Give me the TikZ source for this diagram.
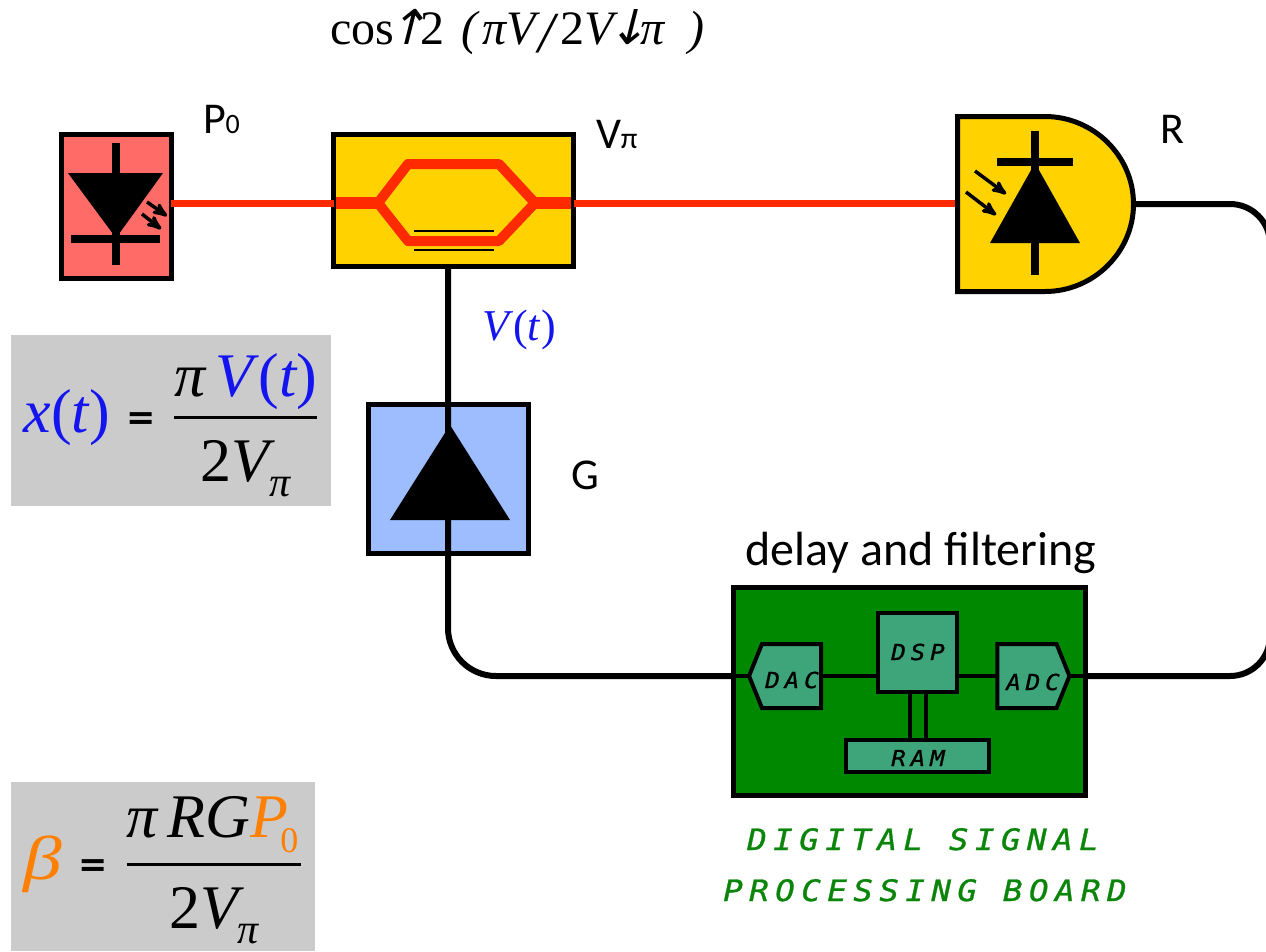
\documentclass[tikz,border=0pt]{standalone}
\usepackage{fix-cm}
\usepackage{amsmath}
\usepackage{fontspec}
\setmainfont{Carlito}
\newfontfamily\eqfont{Liberation Serif}
\newfontfamily\signfont{DejaVu Sans}
\newfontfamily\slantfont[FakeSlant=0.25]{DejaVu Sans}
\newfontfamily\boardfont[LetterSpace=22,FakeStretch=1.1,FakeBold=1]{DejaVu Sans Mono}
\usetikzlibrary{shapes,arrows}
\usetikzlibrary{positioning}
\usepackage{xcolor}

\definecolor{laserred}{HTML}{FF6B66}
\definecolor{fibrered}{HTML}{FF2A00}
\definecolor{mzmyellow}{HTML}{FFD200}
\definecolor{ampblue}{HTML}{9DBDFF}
\definecolor{boardgreen}{HTML}{008800}
\definecolor{chipgreen}{HTML}{3DA579}
\definecolor{textgreen}{HTML}{0A850A}
\definecolor{eqgrey}{HTML}{CBCBCB}
\definecolor{eqblue}{HTML}{1414F0}
\definecolor{eqorange}{HTML}{FF8000}

\newcommand{\ital}[1]{\text{\eqfont\itshape #1}}
\newcommand{\rom}[1]{\text{\eqfont #1}}
\newcommand{\tallarrow}[1]{{\slantfont\fontsize{48}{48}\selectfont #1}}
\newcommand{\eqsign}{\hspace{17pt}\raisebox{3pt}{\signfont\bfseries\fontsize{35}{35}\selectfont =}\hspace{17pt}}
\newcommand{\eqdenom}{\raisebox{-6pt}{\eqfont 2\itshape V\raisebox{-15pt}{\fontsize{42}{42}\selectfont π}}}

\tikzset{
  device/.style={draw=black, line width=5pt, inner sep=0pt, outer sep=0pt},
  chip/.style={draw=black, line width=4pt, fill=chipgreen, inner sep=0pt, outer sep=0pt},
  tag/.style={inner sep=0pt, outer sep=0pt, font=\fontsize{44}{52}\selectfont},
  chiptext/.style={inner sep=0pt, font=\boardfont\itshape\fontsize{22}{28}\selectfont},
  captext/.style={inner sep=0pt, text=textgreen, anchor=base, font=\boardfont\itshape\fontsize{29.5}{35}\selectfont},
  eqbox/.style={fill=eqgrey, inner sep=0pt, outer sep=0pt},
  eqtext/.style={inner sep=0pt, outer sep=0pt, anchor=base, font=\eqfont\fontsize{62}{74}\selectfont},
  fibre/.style={draw=fibrered, line width=7pt},
  guide/.style={draw=fibrered, line width=10pt, line join=round},
  wire/.style={draw=black, line width=6pt},
  thinwire/.style={draw=black, line width=4pt},
  bar/.style={draw=black, line width=8pt},
  photon/.style={draw=black, line width=3.5pt, ->, >=stealth'}
}

\begin{document}
\begin{tikzpicture}[x=1pt, y=-1pt]
  \useasboundingbox (0,0) rectangle (1266,951);

  % Top: transfer function
  \node[inner sep=0pt, anchor=base west, font=\eqfont\fontsize{48}{56}\selectfont] (transfer) at (330,44)
    {cos\hspace{-8pt}\tallarrow{↑}\hspace{-6pt}2\hspace{17pt}\textit{(}\hspace{3pt}\textit{πV}\hspace{-2pt}\raisebox{-8pt}{\fontsize{58}{58}\selectfont\textit{/}}\hspace{1pt}2\textit{V}\hspace{-11pt}\tallarrow{↓}\hspace{-7pt}\textit{π\ \ )}};

  % Optical path
  \node[device, fill=mzmyellow, minimum width=240pt, minimum height=132pt] (mzm) at (453.5,200.5) {};
  \node[device, fill=laserred, minimum width=110pt, minimum height=144pt] (laser) at (116.25,206.5) {};
  \node[inner sep=0pt, outer sep=0pt, minimum width=181pt, minimum height=180pt] (det) at (1045.5,204) {};
  \coordinate (split) at (378,203);
  \coordinate (combine) at (535,203);
  \draw[fibre] (laser.east |- split) -- (mzm.west |- split);
  \draw[fibre] (mzm.east |- combine) -- (det.west |- combine);

  % Laser diode
  \fill (68,173) -- (163,173) -- (116,238) -- cycle;
  \draw[bar] (115.5,143) -- (115.5,265);
  \draw[bar] (71,239) -- (160,239);
  \draw[photon] (147,202) -- (167,216);
  \draw[photon] (142,214) -- (161,229);

  % Modulator arms
  \draw[guide] (split) -- (408,164) -- (499,164) -- (combine);
  \draw[guide] (split) -- (408,241) -- (499,241) -- (combine);
  \draw[guide, line width=12pt] (336,203) -- (split);
  \draw[guide, line width=12pt] (combine) -- (571,203);
  \draw[black, line width=2pt] (414,231) -- (494,231);
  \draw[black, line width=2pt] (414,250) -- (494,250);

  % Photodetector
  \draw[device, fill=mzmyellow] (957.5,116.5) -- (1045,116.5) .. controls (1093.3,116.5) and (1133.5,155.7) .. (1133.5,204) .. controls (1133.5,252.3) and (1093.3,291.5) .. (1045,291.5) -- (957.5,291.5) -- cycle;
  \fill (1035,163) -- (990,243) -- (1080,243) -- cycle;
  \draw[bar] (1035,131) -- (1035,275);
  \draw[bar] (997,162) -- (1073,162);
  \draw[photon] (975,171) -- (1006,194);
  \draw[photon] (966,192) -- (996,215);

  % Amplifier
  \node[device, fill=ampblue, minimum width=160pt, minimum height=149pt] (amp) at (448,479) {};

  % Board
  \node[device, fill=boardgreen, minimum width=352pt, minimum height=208pt] (board) at (909.5,691.5) {};
  \node[chip, minimum width=79pt, minimum height=79pt] (dsp) at (917.5,652.5) {};
  \node[chip, minimum width=143pt, minimum height=32pt] (ram) at (917.5,756) {};
  \node[chip, signal, signal to=west, signal pointer angle=136, minimum width=72pt, minimum height=64pt] (dac) at (791.5,676) {};
  \node[chip, signal, signal to=east, signal pointer angle=136, minimum width=72pt, minimum height=64pt] (adc) at (1027,676) {};

  \draw[thinwire] (dac.east) -- (dac.east -| dsp.west);
  \draw[thinwire] (dac.east -| dsp.east) -- (adc.west);
  \draw[thinwire] (board.west |- dac) -- (dac.west);
  \draw[thinwire] (adc.east) -- (board.east |- adc);
  \draw[thinwire] ([xshift=-8pt]dsp.south) -- ([xshift=-8pt]dsp.south |- ram.north);
  \draw[thinwire] ([xshift=8pt]dsp.south) -- ([xshift=8pt]dsp.south |- ram.north);

  \node[chiptext] (dactext) at (792,680) {DAC};
  \node[chiptext] (dsptext) at (918,652) {DSP};
  \node[chiptext] (adctext) at (1033,682) {ADC};
  \node[chiptext] (ramtext) at (918,758) {RAM};

  % Feedback loop
  \coordinate (turn) at (1270,440);
  \draw[wire, rounded corners=40pt] (det.east) -- (turn |- det) -- (turn |- adc) -- (board.east |- adc);
  \draw[wire, rounded corners=48pt] (amp |- mzm.south) -- (amp |- dac) -- (board.west |- dac);
  \fill (450,425) -- (390,520) -- (510,520) -- cycle;

  % Labels
  \node[tag, anchor=base west] (p0) at (203,133) {P\fontsize{28}{32}\selectfont 0};
  \node[tag, anchor=base west] (vpi) at (596,148) {V\fontsize{30}{34}\selectfont π};
  \node[tag, anchor=base west] (rlabel) at (1160,143) {R};
  \node[tag, right=43pt of amp, yshift=4pt] (glabel) {G};
  \node[tag, above=14pt of board, xshift=11.5pt, font=\fontsize{48}{56}\selectfont] (delay) {delay and filtering};
  \node[inner sep=0pt, anchor=base west, text=eqblue, font=\eqfont\fontsize{44}{52}\selectfont] (vt) at (482,340)
    {\textit{V}(\textit{t})};

  % Equations
  \node[eqbox, minimum width=320pt, minimum height=171pt] (xeq) at (171,420.5) {};
  \node[eqtext] (xtext) at (171,432.5)
    {\color{eqblue}$\ital{x}\rom{(}\ital{t}\rom{)}$\color{black}\eqsign$\genfrac{}{}{3pt}{0}{\raisebox{-6pt}[40pt][0pt]{$\ital{π}\,\textcolor{eqblue}{\ital{V}\hspace{5pt}\rom{(}\ital{t}\rom{)}}$}}{\eqdenom}$};
  \node[eqbox, minimum width=304pt, minimum height=169pt] (beq) at (163,866.5) {};
  \node[eqtext] (btext) at (163,879.5)
    {\color{eqorange}\scalebox{1.25}[1]{$\ital{β}$}\color{black}\eqsign$\genfrac{}{}{3pt}{0}{\ital{π}\,\ital{RG}\textcolor{eqorange}{\ital{P}\hspace{-8pt}\raisebox{-15pt}{\eqfont\fontsize{36}{36}\selectfont 0}}\hspace{3pt}}{\eqdenom}$};

  % Board caption
  \node[captext] (cap1) at (923,850) {DIGITAL SIGNAL};
  \node[captext] (cap2) at (925,901) {PROCESSING BOARD};
\end{tikzpicture}
\end{document}
